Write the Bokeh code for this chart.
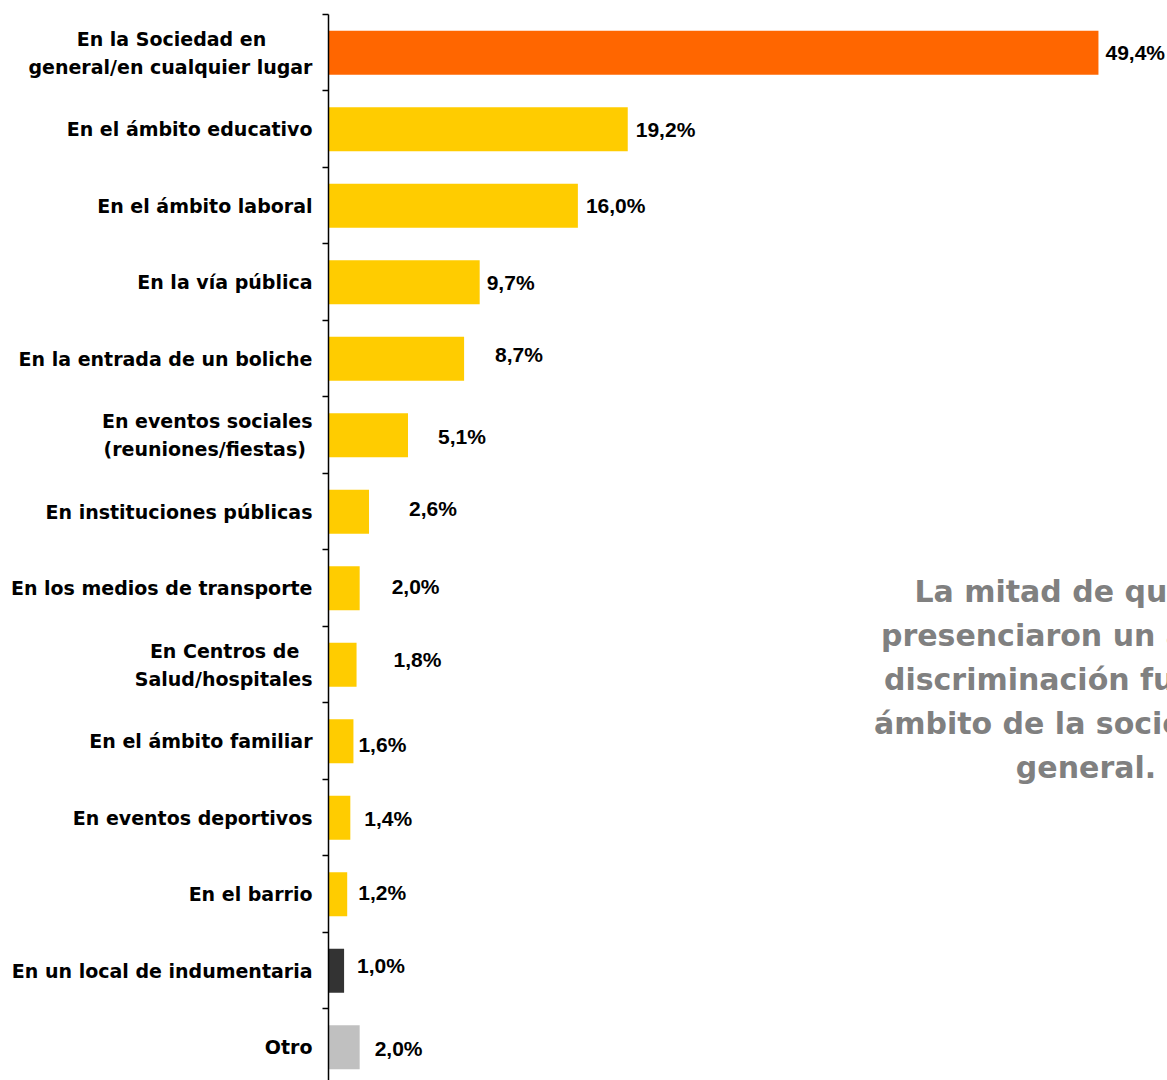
from bokeh.plotting import figure
from bokeh.models import Range1d, FixedTicker, ColumnDataSource, Label
from bokeh.embed import file_html
from bokeh.resources import INLINE
from bokeh.core.properties import value

# ---------------- data ----------------
categories = [
    "En la Sociedad en\ngeneral/en cualquier lugar",
    "En el ámbito educativo",
    "En el ámbito laboral",
    "En la vía pública",
    "En la entrada de un boliche",
    "En eventos sociales\n(reuniones/fiestas)",
    "En instituciones públicas",
    "En los medios de transporte",
    "En Centros de\nSalud/hospitales",
    "En el ámbito familiar",
    "En eventos deportivos",
    "En el barrio",
    "En un local de indumentaria",
    "Otro",
]
values = [49.4, 19.2, 16.0, 9.7, 8.7, 5.1, 2.6, 2.0, 1.8, 1.6, 1.4, 1.2, 1.0, 2.0]
value_labels = ["49,4%", "19,2%", "16,0%", "9,7%", "8,7%", "5,1%", "2,6%",
                "2,0%", "1,8%", "1,6%", "1,4%", "1,2%", "1,0%", "2,0%"]
note_lines = [
    "La mitad de quienes",
    "presenciaron un acto de",
    "discriminación fue en el",
    "ámbito de la sociedad en",
    "general.",
]

# ---------------- styles ----------------
bar_colors = ["#FF6600"] + ["#FFCC00"] * 11 + ["#333333", "#C0C0C0"]
label_dx = [7, 8, 8, 7, 31, 30, 40, 32, 37, 5, 14, 11, 13, 15]
label_dy = [0, 0, 0, 0, -4, 1, -3, -2, -5, 3, 1, -2, -5, 1]
# padding (non-breaking spaces) so that the shorter line of a two-line
# label is centred under the longer one, as in the original
line_pad = {0: 7, 5: 1, 8: 2}


def padded(i, text):
    if "\n" not in text or i not in line_pad:
        return text
    a, b = text.split("\n")
    pad = "\u00a0" * line_pad[i]
    if len(a) < len(b):
        a = a + pad
    else:
        b = b + pad
    return a + "\n" + b


n = len(categories)
ypos = [n - i - 0.5 for i in range(n)]
boundaries = list(range(0, n + 1))

src = ColumnDataSource(dict(
    y=ypos, v=values, lab=value_labels, color=bar_colors,
    dx=label_dx, dy=label_dy,
))

p = figure(
    width=1167, height=1080,
    x_range=Range1d(0, 53.83), y_range=Range1d(0.065, 14),
    x_axis_location=None, y_axis_location="left",
    output_backend="svg", toolbar_location=None,
    min_border_left=328, min_border_right=0,
    min_border_top=14, min_border_bottom=0,
)
p.outline_line_color = None
p.grid.visible = False
p.background_fill_color = "white"
p.border_fill_color = "white"

p.hbar(y="y", left=0, right="v", height=0.575, color="color",
       line_color=None, source=src)

p.text(x="v", y="y", text="lab", x_offset="dx", y_offset="dy", source=src,
       text_font=value("Liberation Sans"), text_font_style="bold",
       text_font_size="21px", text_color="black",
       text_align="left", text_baseline="middle")

ax = p.yaxis[0]
ax.ticker = FixedTicker(ticks=ypos, minor_ticks=boundaries)
ax.major_label_overrides = {y: padded(i, c) for i, (y, c) in enumerate(zip(ypos, categories))}
ax.major_tick_line_color = None
ax.major_tick_out = 0
ax.major_tick_in = 0
ax.minor_tick_out = 6
ax.minor_tick_in = 0
ax.minor_tick_line_color = "black"
ax.minor_tick_line_width = 1.5
ax.axis_line_color = "black"
ax.axis_line_width = 1.5
ax.major_label_standoff = 10
ax.major_label_text_font = "DejaVu Sans"
ax.major_label_text_font_style = "bold"
ax.major_label_text_font_size = "19px"
ax.major_label_text_color = "black"
ax.major_label_text_line_height = 1.26

note_x = 48.6
note_y = [6.46, 5.88, 5.31, 4.73, 4.16]
for t, yy in zip(note_lines, note_y):
    p.add_layout(Label(x=note_x, y=yy, text=t, text_align="center",
                       text_baseline="middle", text_font="DejaVu Sans",
                       text_font_style="bold", text_font_size="30px",
                       text_color="#808080"))

open("out.html", "w").write(file_html(p, INLINE))
